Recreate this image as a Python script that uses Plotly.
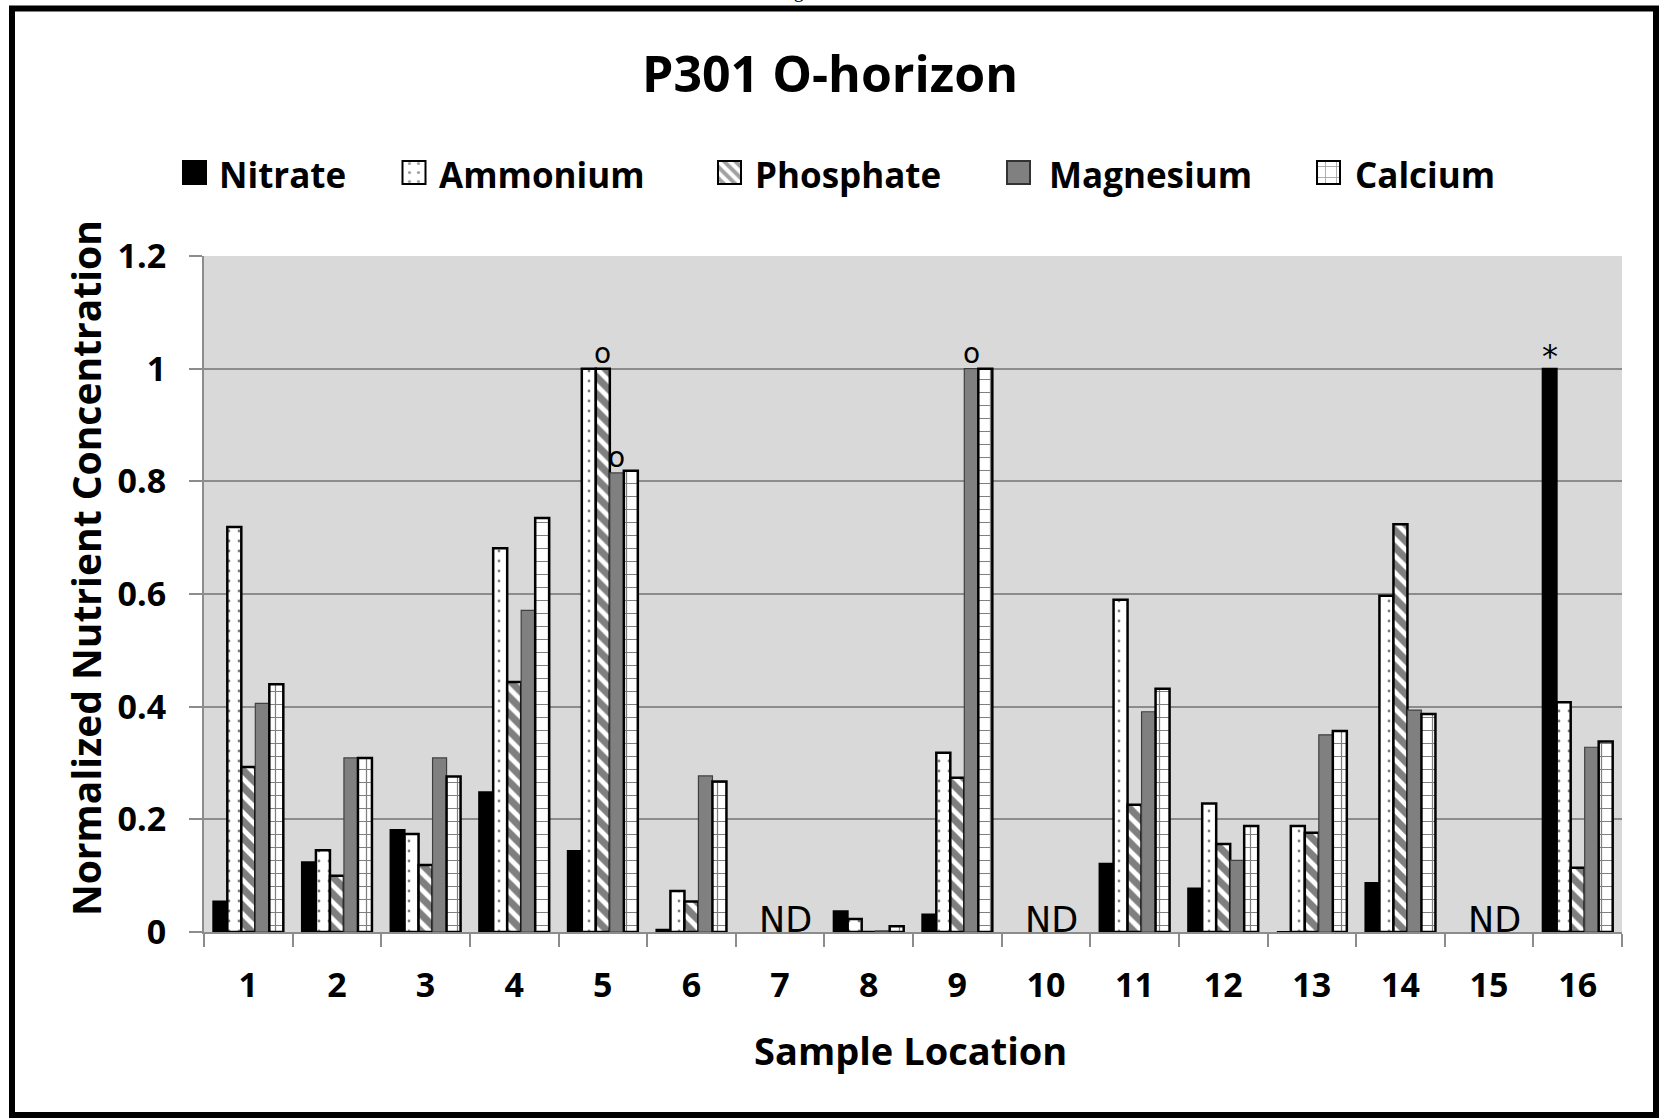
import plotly.graph_objects as go

# ---------------- data ----------------
locations = list(range(1, 17))
loc_labels = [str(i) for i in locations]
series_names = ["Nitrate", "Ammonium", "Phosphate", "Magnesium", "Calcium"]
nitrate   = [0.054, 0.124, 0.181, 0.248, 0.144, 0.004, None, 0.037, 0.031, None, 0.121, 0.077, 0.0,   0.087, None, 1.0]
ammonium  = [0.719, 0.145, 0.174, 0.681, 1.0,   0.073, None, 0.023, 0.318, None, 0.590, 0.228, 0.188, 0.597, None, 0.408]
phosphate = [0.293, 0.100, 0.119, 0.444, 1.0,   0.054, None, 0.0,   0.274, None, 0.226, 0.156, 0.176, 0.724, None, 0.114]
magnesium = [0.406, 0.309, 0.309, 0.571, 0.815, 0.277, None, 0.002, 1.0,   None, 0.391, 0.127, 0.350, 0.394, None, 0.328]
calcium   = [0.440, 0.309, 0.276, 0.735, 0.819, 0.267, None, 0.010, 1.0,   None, 0.432, 0.188, 0.357, 0.387, None, 0.338]
series_values = [nitrate, ammonium, phosphate, magnesium, calcium]
# markers drawn above bars: (location, series index, symbol)
flags = [(5, 2, "o"), (5, 3, "o"), (9, 3, "o"), (16, 0, "*")]
nd_text = "ND"
y_ticks = [0, 0.2, 0.4, 0.6, 0.8, 1, 1.2]

# ---------------- styles ----------------
W, H = 1660, 1118
PX0, PX1, PY0, PY1 = 204, 1622, 256, 932  # plot area in pixels
FONT = "Open Sans"
GRAY_BG = "#d9d9d9"
GRID = "#8c8c8c"
MG = "#808080"
styles = [
    dict(color="black", pattern=dict(shape=""), line=dict(color="black", width=2)),
    dict(color="white", pattern=dict(shape=".", fgcolor="black", bgcolor="white", size=10, solidity=0.06),
         line=dict(color="black", width=2.5)),
    dict(color="white", pattern=dict(shape="\\", fgcolor="black", bgcolor="white", size=12, solidity=0.6),
         line=dict(color="black", width=2.5)),
    dict(color=MG, pattern=dict(shape=""), line=dict(color="#404040", width=1.2)),
    dict(color="white", pattern=dict(shape="+", fgcolor="black", bgcolor="white", size=13, solidity=0.18),
         line=dict(color="black", width=2.5)),
]
BARGAP = 0.21
slot = (1 - BARGAP) / len(series_names)

fig = go.Figure()
for name, vals, st in zip(series_names, series_values, styles):
    fig.add_trace(go.Bar(x=locations, y=vals, name=name, marker=st, showlegend=False,
                         xaxis="x", yaxis="y"))

# ---------------- custom legend (swatches on hidden pixel axis) ----------------
leg_box_centers = [194.5, 414, 729.5, 1018.5, 1328.5]
leg_text_x = [217, 437, 753, 1047, 1353]
BOX = 23
LEG_TOP = 161
fig.add_trace(go.Bar(
    x=leg_box_centers, y=[BOX] * 5, base=[LEG_TOP] * 5, width=[BOX] * 5,
    xaxis="x2", yaxis="y2", showlegend=False, hoverinfo="skip",
    marker=dict(
        color=[s["color"] for s in styles],
        pattern=dict(shape=["", ".", "\\", "", "+"], fgcolor="black",
                     bgcolor=["black", "white", "white", MG, "white"],
                     size=[8, 9, 8, 8, 11], solidity=[0.1, 0.1, 0.5, 0.1, 0.15]),
        line=dict(color=["black", "black", "black", "#333333", "black"], width=2),
    ),
))

ann = []
for name, tx in zip(series_names, leg_text_x):
    ann.append(dict(text=name, x=tx / W, y=1 - 174 / H, xref="paper", yref="paper",
                    xanchor="left", yanchor="middle", showarrow=False,
                    font=dict(family=FONT, size=35, weight="bold", color="black")))

for loc, si, sym in flags:
    ann.append(dict(text=sym, x=loc + (si - 2) * slot, y=series_values[si][loc - 1],
                    xref="x", yref="y", yanchor="bottom", showarrow=False,
                    yshift=-3 if sym == "o" else -8,
                    font=dict(family="DejaVu Sans", size=28 if sym == "o" else 32, color="black")))
for loc in locations:
    if all(s[loc - 1] is None for s in series_values):
        ann.append(dict(text=nd_text, x=loc + 0.06, y=0, xref="x", yref="y", yanchor="bottom",
                        showarrow=False, yshift=-10,
                        font=dict(family="DejaVu Sans", size=35, color="black")))

# axis titles
ann.append(dict(text="Normalized Nutrient Concentration", x=85 / W, y=1 - 568 / H,
                xref="paper", yref="paper", textangle=-90, showarrow=False,
                xanchor="center", yanchor="middle",
                font=dict(family=FONT, size=39, weight="bold", color="black")))
ann.append(dict(text="Sample Location", x=910 / W, y=1 - 1050 / H,
                xref="paper", yref="paper", showarrow=False,
                xanchor="center", yanchor="middle",
                font=dict(family=FONT, size=38, weight="bold", color="black")))
# caption above the frame (cut off at the page's top edge, as in the source)
ann.append(dict(text="Figure 7", x=810 / W, y=1 - 4 / H, xref="paper", yref="paper",
                xanchor="center", yanchor="bottom", showarrow=False,
                font=dict(family="Liberation Serif", size=20, color="black")))

shapes = [
    dict(type="rect", xref="x domain", yref="y domain", x0=0, x1=1, y0=0, y1=1,
         fillcolor=GRAY_BG, line=dict(width=0), layer="below"),
    dict(type="rect", xref="paper", yref="paper", x0=12 / W, x1=1656 / W,
         y0=1 - 1115 / H, y1=1 - 8.5 / H, line=dict(color="black", width=6),
         fillcolor="rgba(0,0,0,0)", layer="above"),
]

fig.update_layout(
    width=W, height=H, autosize=False,
    margin=dict(l=0, r=0, t=0, b=0, pad=0, autoexpand=False),
    paper_bgcolor="white", plot_bgcolor="rgba(0,0,0,0)",
    barmode="group", bargap=BARGAP, bargroupgap=0,
    title=dict(text="P301 O-horizon", x=830 / W, y=1 - 74 / H, xref="paper", yref="paper",
               xanchor="center", yanchor="middle", automargin=False,
               font=dict(family=FONT, size=50, weight="bold", color="black")),
    xaxis=dict(domain=[PX0 / W, PX1 / W], range=[0.5, 16.5], tickmode="array",
               tickvals=locations, ticktext=loc_labels, ticks="outside", ticklen=0,
               ticklabelstandoff=22, automargin=False,
               tickfont=dict(family=FONT, size=34, weight="bold", color="black"),
               showline=True, linecolor=GRID, linewidth=2, showgrid=False, zeroline=False,
               minor=dict(tickmode="array", tickvals=[i + 0.5 for i in range(0, 17)],
                          ticks="outside", ticklen=13, tickcolor=GRID, tickwidth=2, showgrid=False)),
    yaxis=dict(domain=[1 - PY1 / H, 1 - PY0 / H], range=[0, 1.2], tickmode="array",
               tickvals=y_ticks, ticks="outside", ticklen=13, tickcolor=GRID, tickwidth=2,
               ticklabelstandoff=16, automargin=False,
               tickfont=dict(family=FONT, size=34, weight="bold", color="black"),
               showline=True, linecolor=GRID, linewidth=2,
               showgrid=True, gridcolor=GRID, gridwidth=2, zeroline=False),
    xaxis2=dict(domain=[0, 1], range=[0, W], visible=False, fixedrange=True,
                anchor="y2", automargin=False),
    yaxis2=dict(domain=[1 - 200 / H, 1 - 150 / H], range=[200, 150], visible=False,
                fixedrange=True, anchor="x2", automargin=False),
    annotations=ann,
    shapes=shapes,
)

fig.write_html("out.html")
